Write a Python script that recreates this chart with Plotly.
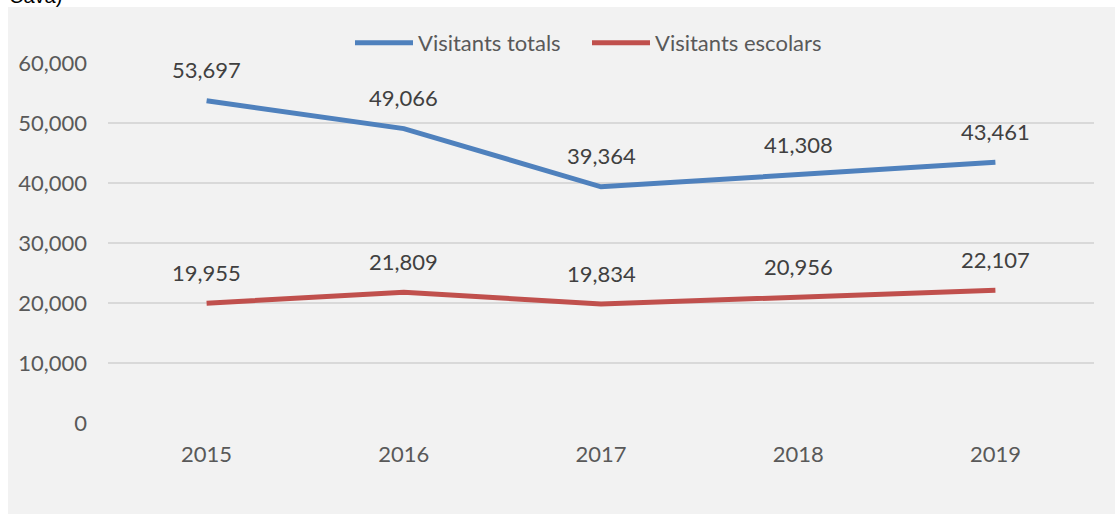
import plotly.graph_objects as go

years = ["2015", "2016", "2017", "2018", "2019"]
totals = [53697, 49066, 39364, 41308, 43461]
escolars = [19955, 21809, 19834, 20956, 22107]
names = ["Visitants totals", "Visitants escolars"]
colors = ["#4F81BD", "#C0504D"]

W, H = 1115, 514
L, R, T, B = 108, 21, 63, 91
pw, ph = W - L - R, H - T - B
txt = "#595959"
fnt = "Lato"
fs = 22

fig = go.Figure()
for vals, nm, col in zip([totals, escolars], names, colors):
    fig.add_trace(go.Scatter(x=years, y=vals, name=nm, mode="lines",
                             line=dict(color=col, width=5), hoverinfo="skip"))
    for i, y in enumerate(vals):
        fig.add_annotation(x=i, y=y, text=f"{y:,}", showarrow=False,
                           yanchor="middle", yshift=31,
                           font=dict(family=fnt, size=fs, color="#404040"))

# grey chart area
fig.add_shape(type="rect", xref="paper", yref="paper", layer="below",
              x0=(8 - L) / pw, x1=(W - L) / pw + 0.01,
              y0=-B / ph - 0.01, y1=1 + (T - 7) / ph,
              fillcolor="#F2F2F2", line_width=0)

# cut-off text above the chart
fig.add_annotation(xref="paper", yref="paper", x=(7 - L) / pw, y=1 + (T - 9) / ph,
                   xanchor="left", yanchor="bottom", text="Cava)", showarrow=False,
                   font=dict(family="Liberation Sans", size=20, color="#000000"))

fig.update_layout(
    width=W, height=H,
    margin=dict(l=L, r=R, t=T, b=B),
    paper_bgcolor="white", plot_bgcolor="rgba(0,0,0,0)",
    font=dict(family=fnt, size=fs, color=txt),
    legend=dict(orientation="h", x=(350 - L) / pw, xanchor="left",
                y=1 + (T - 43) / ph, yanchor="middle",
                bgcolor="rgba(0,0,0,0)", font=dict(family=fnt, size=fs, color=txt),
                itemwidth=58, entrywidth=164),
    showlegend=True,
)
fig.update_xaxes(type="category", range=[-0.5, 4.5], showgrid=False, zeroline=False,
                 showline=False, ticks="", ticklabelstandoff=16,
                 tickfont=dict(family=fnt, size=fs, color=txt), fixedrange=True)
fig.update_yaxes(range=[0, 60000], dtick=10000, tickformat=",", showgrid=True,
                 gridcolor="#D9D9D9", gridwidth=2, zeroline=False, showline=False,
                 ticks="", ticklabelstandoff=20,
                 tickfont=dict(family=fnt, size=fs, color=txt), fixedrange=True)

fig.write_html("out.html", config={"displayModeBar": False},
               post_script="document.body.style.margin='0';")
